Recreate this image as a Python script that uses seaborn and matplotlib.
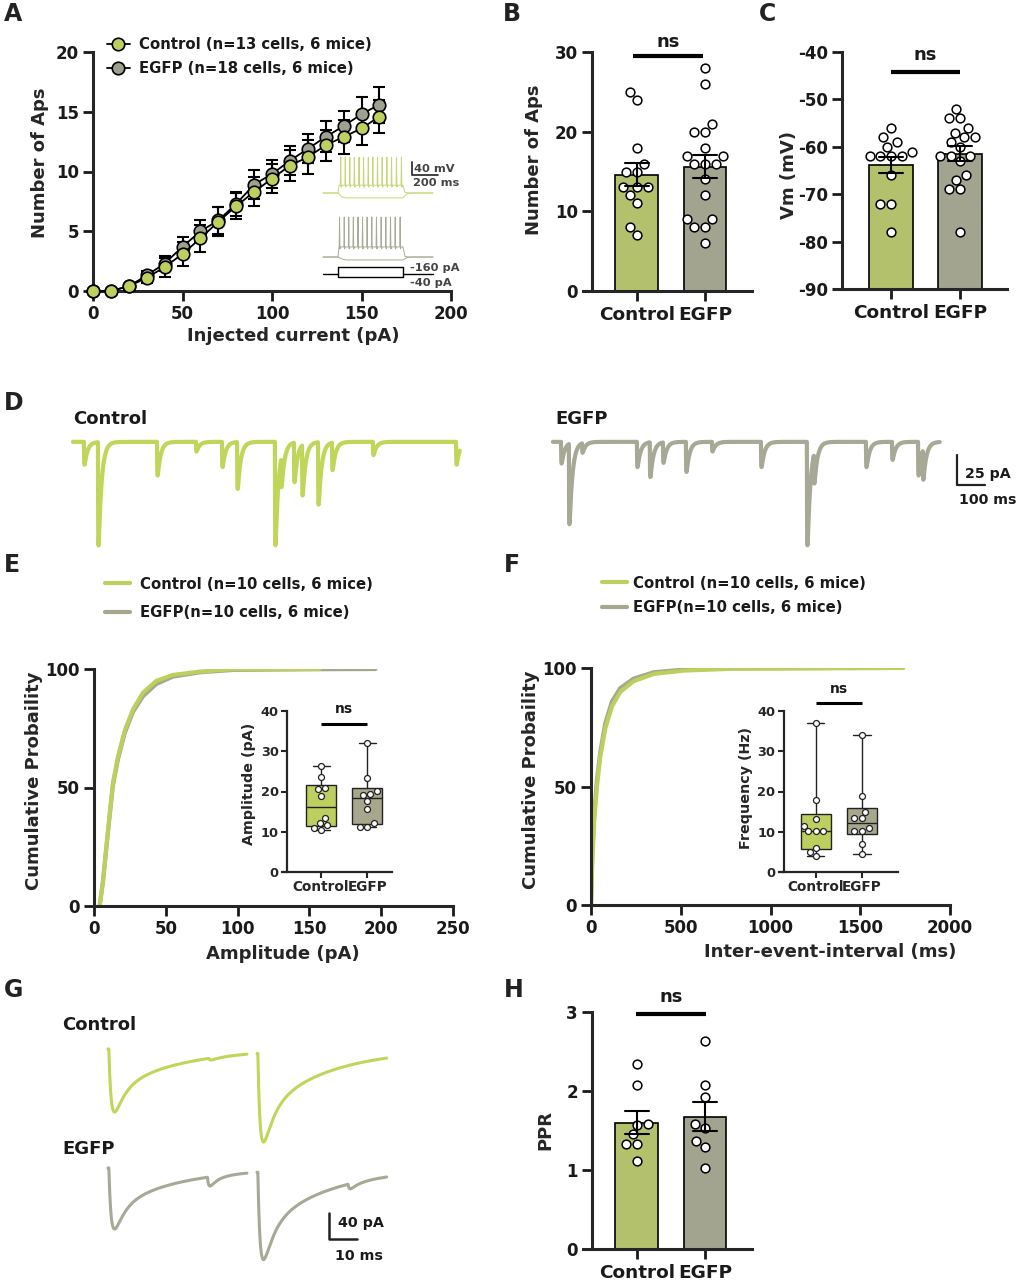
import numpy as np
import pandas as pd
import matplotlib
matplotlib.use("Agg")
import matplotlib.pyplot as plt
import seaborn as sns

# ---------------- data ----------------
groups = ["Control", "EGFP"]

# A: number of APs vs injected current (mean +/- sem)
current_pA = [0, 10, 20, 30, 40, 50, 60, 70, 80, 90, 100, 110, 120, 130, 140, 150, 160]
aps_ctrl_mean = [0, 0, 0.4, 1.1, 2.0, 3.1, 4.4, 5.8, 7.1, 8.3, 9.4, 10.5, 11.2, 12.2, 12.9, 13.6, 14.6]
aps_ctrl_sem = [0, 0, 0.1, 0.4, 0.8, 1.0, 1.1, 1.2, 1.1, 1.2, 1.2, 1.3, 1.4, 1.3, 1.4, 1.4, 1.4]
aps_egfp_mean = [0, 0, 0.4, 1.3, 2.3, 3.7, 5.0, 5.9, 7.3, 8.9, 9.8, 10.9, 11.9, 12.9, 13.8, 14.8, 15.6]
aps_egfp_sem = [0, 0, 0.1, 0.4, 0.6, 0.8, 0.9, 1.1, 1.0, 1.2, 1.2, 1.2, 1.2, 1.3, 1.3, 1.4, 1.5]

# A inset: spike times (ms after step onset)
spk_ctrl_t = [21, 56, 91, 126, 162, 197, 233, 268, 304, 340, 376, 412, 450, 488]
spk_egfp_t = [12, 48, 83, 118, 154, 189, 224, 260, 296, 332, 368, 404, 440, 478]

# B: number of APs per cell
aps_ctrl = [25, 24, 18, 16, 15, 15, 13, 13, 13, 12, 11, 8, 7]
aps_egfp = [28, 26, 21, 20, 20, 18, 17, 17, 16, 16, 16, 14, 12, 9, 9, 8, 8, 6]

# C: resting membrane potential (mV)
vm_ctrl = [-56, -58, -59, -60, -61, -62, -62, -62, -62, -66, -72, -72, -78]
vm_egfp = [-52, -54, -54, -56, -57, -58, -58, -59, -60, -62, -62, -62, -63, -66, -67, -69, -69, -78]

# D: example sEPSC events (onset ms, amplitude pA)
d_ctrl_t = [39, 89, 300, 439, 532, 586, 721, 743, 789, 818, 875, 925, 1071, 1368]
d_ctrl_amp = [19, 86, 28, 8, 21, 39, 86, 25, 33, 42, 52, 23, 11, 19]
d_egfp_t = [29, 57, 104, 300, 346, 393, 475, 568, 743, 907, 932, 1118, 1211, 1304, 1321]
d_egfp_amp = [18, 67, 8, 21, 29, 17, 25, 8, 21, 86, 25, 21, 15, 28, 25]

# E: cumulative amplitude distribution
amp_ctrl_x = [3.9, 6.3, 8.6, 10.9, 13.2, 16.7, 21.4, 27.2, 34.1, 43.4, 55, 73.6, 96.8, 157]
amp_ctrl_cdf = [0, 10.8, 25, 39, 52, 63, 74, 83, 90, 95, 97.5, 98.9, 99.9, 100]
amp_egfp_x = [3.9, 6.3, 8.6, 10.9, 13.2, 16.7, 21.4, 27.2, 34.1, 43.4, 55, 73.6, 96.8, 150, 196]
amp_egfp_cdf = [0, 10.5, 24.5, 38, 51, 62, 73, 82, 88.5, 93.7, 96.8, 98.6, 99.6, 99.9, 100]
amp_cells_ctrl = [26.3, 23.6, 20.9, 20.5, 18.9, 13.5, 12.2, 11.6, 10.9, 10.4]
amp_cells_egfp = [32.1, 23.4, 20.1, 19.3, 19.1, 17.6, 15.7, 12.2, 11.3, 11.3]

# F: cumulative inter-event-interval distribution
iei_ctrl_x = [0, 7.4, 18.5, 33, 52, 80, 117, 163, 237, 349, 516, 794, 1740]
iei_ctrl_cdf = [0, 19, 36, 50, 62.7, 74.6, 83.8, 89.9, 94.4, 97.5, 98.9, 99.7, 100]
iei_egfp_x = [0, 7.4, 18.5, 33, 52, 80, 117, 163, 237, 349, 516, 794, 1350]
iei_egfp_cdf = [0, 21.8, 38.7, 52.8, 64.8, 76.8, 85.9, 91.5, 95.5, 98.2, 99.3, 99.86, 100]
freq_ctrl = [37.0, 17.9, 13.1, 11.5, 10.1, 10.1, 10.1, 5.9, 4.9, 3.9]
freq_egfp = [34.0, 19.0, 14.9, 13.5, 13.3, 10.9, 10.1, 10.1, 7.0, 4.5]

# G: paired-pulse EPSCs (stim ms, peak pA) + small spontaneous events
g_stim_t = [0.3, 53.5]
g_ctrl_amp = [97, 137]
g_egfp_amp = [94, 135]
g_ctrl_spont_t, g_ctrl_spont_amp = [36.0], [3]
g_egfp_spont_t, g_egfp_spont_amp = [35.5, 85.7], [14, 8]

# H: paired-pulse ratio
ppr_ctrl = [2.34, 2.07, 1.58, 1.57, 1.45, 1.33, 1.33, 1.12]
ppr_egfp = [2.63, 2.07, 1.92, 1.58, 1.53, 1.37, 1.29, 1.02]

# ---------------- style ----------------
GREEN = "#bccf5f"
GREY = "#a6a78d"
GREY_MK = "#9fa090"
TR_GREEN = "#bfd65a"
TR_GREY = "#a7a895"

sns.set_style("ticks")
plt.rcParams["font.family"] = ["DejaVu Sans"]
plt.rcParams["font.weight"] = "bold"
plt.rcParams["axes.labelweight"] = "bold"
plt.rcParams["axes.linewidth"] = 2.2
plt.rcParams["axes.unicode_minus"] = False
plt.rcParams["text.color"] = "#1a1a1a"

TICK_FS = 12
LABEL_FS = 13
LEG_FS = 10.7

W, H = 1023, 1280
fig = plt.figure(figsize=(W / 100, H / 100), dpi=100)


def add_ax(l, t, r, b):
    return fig.add_axes([l / W, 1 - b / H, (r - l) / W, (b - t) / H])


def ftext(x, y, s, **kw):
    fig.text(x / W, 1 - y / H, s, **kw)


def style_main(ax):
    sns.despine(ax=ax)
    ax.tick_params(length=7, width=2, labelsize=TICK_FS, pad=3, colors="#1a1a1a")
    for lab in ax.get_xticklabels() + ax.get_yticklabels():
        lab.set_fontweight("bold")


def psc(t, onsets, amps, tau_r, tau_f, tau_s=None, frac_f=1.0):
    y = np.zeros_like(t)
    for t0, a in zip(onsets, amps):
        s = np.clip(t - t0, 0, None)
        dec = frac_f * np.exp(-s / tau_f)
        if tau_s:
            dec = dec + (1 - frac_f) * np.exp(-s / tau_s)
        k = (1 - np.exp(-s / tau_r)) * dec
        y -= a * k / k.max()
    return y


# ---------------- A ----------------
axA = add_ax(93, 52, 451, 291)
handles = {}
for name, mean, sem, fc in [("EGFP", aps_egfp_mean, aps_egfp_sem, GREY_MK),
                            ("Control", aps_ctrl_mean, aps_ctrl_sem, GREEN)]:
    axA.errorbar(current_pA, mean, yerr=sem, fmt="none", ecolor="k", elinewidth=1.5,
                 capsize=4.5, capthick=1.5, zorder=3, clip_on=False)
    sns.lineplot(x=current_pA, y=mean, color="k", linewidth=1.3, marker="o", markersize=9,
                 markerfacecolor=fc, markeredgecolor="k", markeredgewidth=1.2,
                 clip_on=False, zorder=4, ax=axA)
    handles[name] = axA.lines[-1]
axA.set_xlim(0, 200)
axA.set_ylim(0, 20)
axA.set_xticks([0, 50, 100, 150, 200])
axA.set_yticks([0, 5, 10, 15, 20])
axA.set_xlabel("Injected current (pA)", fontsize=LABEL_FS)
axA.set_ylabel("Number of Aps", fontsize=LABEL_FS)
axA.xaxis.set_label_coords(0.559, -0.152)
axA.yaxis.set_label_coords(-0.123, 0.536)
style_main(axA)
axA.legend([handles["Control"], handles["EGFP"]],
           ["Control (n=13 cells, 6 mice)", "EGFP (n=18 cells, 6 mice)"],
           loc="upper left", bbox_to_anchor=(0.039, 1.062), frameon=False, fontsize=LEG_FS,
           handlelength=1.55, handletextpad=0.6, labelspacing=0.6, borderaxespad=0, borderpad=0)

# A inset: spike trains and step protocol
axAi = add_ax(318, 150, 470, 290)
axAi.set_axis_off()
axAi.patch.set_alpha(0)
axAi.set_xlim(-153.8, 1015.4)
axAi.set_ylim(-368.5, 62.3)


def spike_vertices(spikes, base, plateau, peak, ahp):
    tt = [-115, 0, 8]
    vv = [base, base, plateau]
    for s in spikes:
        tt += [s - 3, s, s + 3, s + 8]
        vv += [plateau, peak, ahp, plateau]
    tt += [500, 515, 540, 731]
    vv += [plateau, base + 2, base, base]
    return tt, vv


hyp_t = [-115, 0, 30, 60, 500, 530, 560, 731]
for spikes, col, off, base, plat, peak, ahp, hyp in [
        (spk_ctrl_t, "#c5d77a", 0, -70, -46, 40, -52, -85),
        (spk_egfp_t, "#a9aa98", -197, -70, -39, 53, -45, -79)]:
    tt, vv = spike_vertices(spikes, base, plat, peak, ahp)
    axAi.plot(tt, np.array(vv) + off, color=col, lw=0.7)
    hv = np.array([base, base, hyp + 3, hyp, hyp, base - 2, base, base]) + off
    axAi.plot(hyp_t, hv, color=col, lw=0.7)
axAi.plot([-115, 0], [-319, -319], color="k", lw=1)
axAi.plot([500, 731], [-319, -319], color="k", lw=1)
axAi.plot([0, 500, 500, 0, 0], [-297.7, -297.7, -328.5, -328.5, -297.7], color="k", lw=1)
axAi.plot([569, 569, 769], [25.4, -14.6, -14.6], color="#333333", lw=1.3)
ftext(414, 169, "40 mV", fontsize=8.2, va="center", color="#444444")
ftext(413, 183, "200 ms", fontsize=8.2, va="center", color="#444444")
ftext(410, 268, "-160 pA", fontsize=8.2, va="center", color="#444444")
ftext(410, 283, "-40 pA", fontsize=8.2, va="center", color="#444444")


# ---------------- bar panels ----------------
def bar_panel(rect, ctrl, egfp, spine_x, xlim, ylim, yticks, ylabel, lab_xy,
              ns_x, ns_y, ns_ty, base=None):
    ax = add_ax(*rect)
    df = pd.DataFrame({"group": ["Control"] * len(ctrl) + ["EGFP"] * len(egfp),
                       "value": list(ctrl) + list(egfp)})
    sns.barplot(data=df, x="group", y="value", hue="group", palette=[GREEN, GREY],
                errorbar="se", capsize=0.35, width=0.63, edgecolor="k", linewidth=1.2,
                err_kws={"color": "k", "linewidth": 1.5, "zorder": 6}, legend=False, ax=ax)
    if base is not None:
        for p in ax.patches:
            h = p.get_height()
            p.set_y(base)
            p.set_height(h - base)
    sns.swarmplot(data=df, x="group", y="value", color="white", edgecolor="k",
                  linewidth=1.1, size=6.3, zorder=4, ax=ax)
    ax.set_xlim(*xlim)
    ax.set_ylim(*ylim)
    ax.set_yticks(yticks)
    ax.spines["left"].set_position(("data", spine_x))
    ax.set_xlabel("")
    ax.set_ylabel(ylabel, fontsize=LABEL_FS)
    ax.yaxis.set_label_coords(*lab_xy)
    style_main(ax)
    ax.tick_params(axis="x", labelsize=13.3, pad=4)
    for lab in ax.get_xticklabels():
        lab.set_fontweight("bold")
    ax.plot(ns_x, [ns_y, ns_y], color="k", lw=3, clip_on=False, solid_capstyle="butt")
    ax.text(np.mean(ns_x), ns_ty, "ns", ha="center", va="center", fontsize=13,
            fontweight="bold", clip_on=False)
    return ax


bar_panel((583, 52, 752, 291), aps_ctrl, aps_egfp, -0.66, (-0.79, 1.69), (0, 30),
          [0, 10, 20, 30], "Number of Aps", (-0.237, 0.548),
          [-0.06, 0.97], 29.5, 31.3)
bar_panel((834, 52, 1007, 289), vm_ctrl, vm_egfp, -0.71, (-0.83, 1.68), (-90, -40),
          [-90, -80, -70, -60, -50, -40], "Vm (mV)", (-0.208, 0.48),
          [0.0, 1.0], -44.2, -40.7, base=-90)
bar_panel((583, 1012, 752, 1249), ppr_ctrl, ppr_egfp, -0.66, (-0.79, 1.69), (0, 3),
          [0, 1, 2, 3], "PPR", (-0.17, 0.50),
          [-0.01, 1.01], 2.98, 3.19)

# ---------------- D ----------------
axD = add_ax(60, 395, 1023, 560)
axD.set_axis_off()
axD.set_xlim(-46.4, 3393)
axD.set_ylim(-98.3, 39)
t_d = np.arange(0, 1382, 0.5)
axD.plot(t_d, psc(t_d, d_ctrl_t, d_ctrl_amp, 0.8, 11), color=TR_GREEN, lw=3)
axD.plot(t_d + 1714, psc(t_d, d_egfp_t, d_egfp_amp, 0.8, 11), color=TR_GREY, lw=3)
axD.plot([3157, 3157, 3257], [-10.8, -35.8, -35.8], color="#222222", lw=1.6)
ftext(73, 419, "Control", fontsize=13, va="center")
ftext(555, 419, "EGFP", fontsize=13, va="center")
ftext(965, 474, "25 pA", fontsize=10.2, va="center")
ftext(959, 500, "100 ms", fontsize=10.2, va="center")


# ---------------- E / F ----------------
def cdf_panel(rect, xc, yc, xe, ye, xlim, xticks, xlabel, xlab_xy, leg_xy, tpad, lspace):
    ax = add_ax(*rect)
    sns.lineplot(x=xe, y=ye, color=GREY, linewidth=3, ax=ax, label="EGFP(n=10 cells, 6 mice)")
    sns.lineplot(x=xc, y=yc, color=GREEN, linewidth=3, ax=ax, label="Control (n=10 cells, 6 mice)")
    ax.set_xlim(*xlim)
    ax.set_ylim(0, 100)
    ax.set_xticks(xticks)
    ax.set_yticks([0, 50, 100])
    ax.set_xlabel(xlabel, fontsize=LABEL_FS)
    ax.set_ylabel("Cumulative Probaility", fontsize=LABEL_FS)
    ax.xaxis.set_label_coords(*xlab_xy)
    ax.yaxis.set_label_coords(-0.142, 0.53)
    style_main(ax)
    hs, ls = ax.get_legend_handles_labels()
    ax.legend(hs[::-1], ls[::-1], loc="upper left", bbox_to_anchor=leg_xy, frameon=False,
              fontsize=LEG_FS, handlelength=1.7, handletextpad=tpad, labelspacing=lspace,
              borderaxespad=0, borderpad=0)
    return ax


cdf_panel((94, 669, 453, 906), amp_ctrl_x, amp_ctrl_cdf, amp_egfp_x, amp_egfp_cdf,
          (0, 250), [0, 50, 100, 150, 200, 250], "Amplitude (pA)", (0.527, -0.165),
          (0.03, 1.39), 0.67, 0.9)
cdf_panel((591, 668, 950, 905), iei_ctrl_x, iei_ctrl_cdf, iei_egfp_x, iei_egfp_cdf,
          (0, 2000), [0, 500, 1000, 1500, 2000], "Inter-event-interval (ms)", (0.666, -0.16),
          (0.031, 1.39), 0.4, 0.65)


def prism_stats(vals):
    v = np.asarray(vals, dtype=float)
    q1, med, q3 = np.percentile(v, [25, 50, 75], method="weibull")
    return {"med": med, "q1": q1, "q3": q3, "whislo": v.min(), "whishi": v.max(), "fliers": []}


def box_inset(rect, ctrl, egfp, spine_x, xlim, ylabel, lab_xy, ns_y, ns_ty):
    ax = add_ax(*rect)
    ax.patch.set_alpha(0)
    bp = ax.bxp([prism_stats(ctrl), prism_stats(egfp)], positions=[0, 1], widths=0.65,
                patch_artist=True, capwidths=0.37,
                boxprops={"linewidth": 1, "edgecolor": "#222222"},
                medianprops={"color": "#222222", "linewidth": 1},
                whiskerprops={"color": "#222222", "linewidth": 1},
                capprops={"color": "#222222", "linewidth": 1})
    for patch, col in zip(bp["boxes"], [GREEN, GREY]):
        patch.set_facecolor(col)
    df = pd.DataFrame({"group": ["Control"] * len(ctrl) + ["EGFP"] * len(egfp),
                       "value": list(ctrl) + list(egfp)})
    sns.swarmplot(data=df, x="group", y="value", color="white", edgecolor="#222222",
                  linewidth=0.9, size=4.3, zorder=5, ax=ax)
    ax.set_xlim(*xlim)
    ax.set_ylim(0, 40)
    ax.set_yticks([0, 10, 20, 30, 40])
    ax.set_xticks([0, 1])
    ax.set_xticklabels(groups)
    ax.spines["left"].set_position(("data", spine_x))
    sns.despine(ax=ax)
    for s in ["left", "bottom"]:
        ax.spines[s].set_linewidth(1.6)
    ax.tick_params(length=4, width=1.5, labelsize=9.3, pad=2)
    ax.tick_params(axis="x", labelsize=9.8)
    for lab in ax.get_xticklabels() + ax.get_yticklabels():
        lab.set_fontweight("bold")
    ax.set_xlabel("")
    ax.set_ylabel(ylabel, fontsize=10.3)
    ax.yaxis.set_label_coords(*lab_xy)
    ax.plot([0, 1], [ns_y, ns_y], color="k", lw=2.2, clip_on=False, solid_capstyle="butt")
    ax.text(0.5, ns_ty, "ns", ha="center", va="center", fontsize=10, fontweight="bold",
            clip_on=False)
    return ax


box_inset((283, 711, 392, 872), amp_cells_ctrl, amp_cells_egfp, -0.74, (-0.826, 1.54),
          "Amplitude (pA)", (-0.25, 0.55), 36.8, 40.5)
box_inset((779, 711, 898, 872), freq_ctrl, freq_egfp, -0.70, (-0.80, 1.78),
          "Frequency (Hz)", (-0.22, 0.52), 42, 45.5)

# ---------------- G ----------------
axG = add_ax(100, 1035, 420, 1275)
axG.set_axis_off()
axG.set_xlim(-2.86, 111.4)
axG.set_ylim(-347.7, 21.5)
t_g = np.arange(0, 99.6, 0.1)
gap = (t_g > 49.6) & (t_g < 53.2)
for amps, sp_t, sp_a, off, col in [(g_ctrl_amp, g_ctrl_spont_t, g_ctrl_spont_amp, 0, TR_GREEN),
                                  (g_egfp_amp, g_egfp_spont_t, g_egfp_spont_amp, -183, TR_GREY)]:
    y = psc(t_g, g_stim_t, amps, 1.0, 3.5, 23, 0.56) + psc(t_g, sp_t, sp_a, 0.5, 3) + off
    y[gap] = np.nan
    axG.plot(t_g, y, color=col, lw=2.2)
axG.plot([78.9, 78.9, 88.9], [-252.3, -292.3, -292.3], color="#222222", lw=1.8)
ftext(62, 1025, "Control", fontsize=13, va="center")
ftext(62, 1149, "EGFP", fontsize=13, va="center")
ftext(338, 1223, "40 pA", fontsize=10.3, va="center")
ftext(335, 1256, "10 ms", fontsize=10.3, va="center")

# ---------------- panel letters ----------------
for letter, x, y in [("A", 4, 14), ("B", 503, 14), ("C", 759, 14), ("D", 4, 403),
                     ("E", 4, 565), ("F", 504, 565), ("G", 4, 990), ("H", 504, 990)]:
    ftext(x, y, letter, fontsize=17, fontweight="bold", va="center", color="#222222")

fig.savefig("out.png", dpi=100)
